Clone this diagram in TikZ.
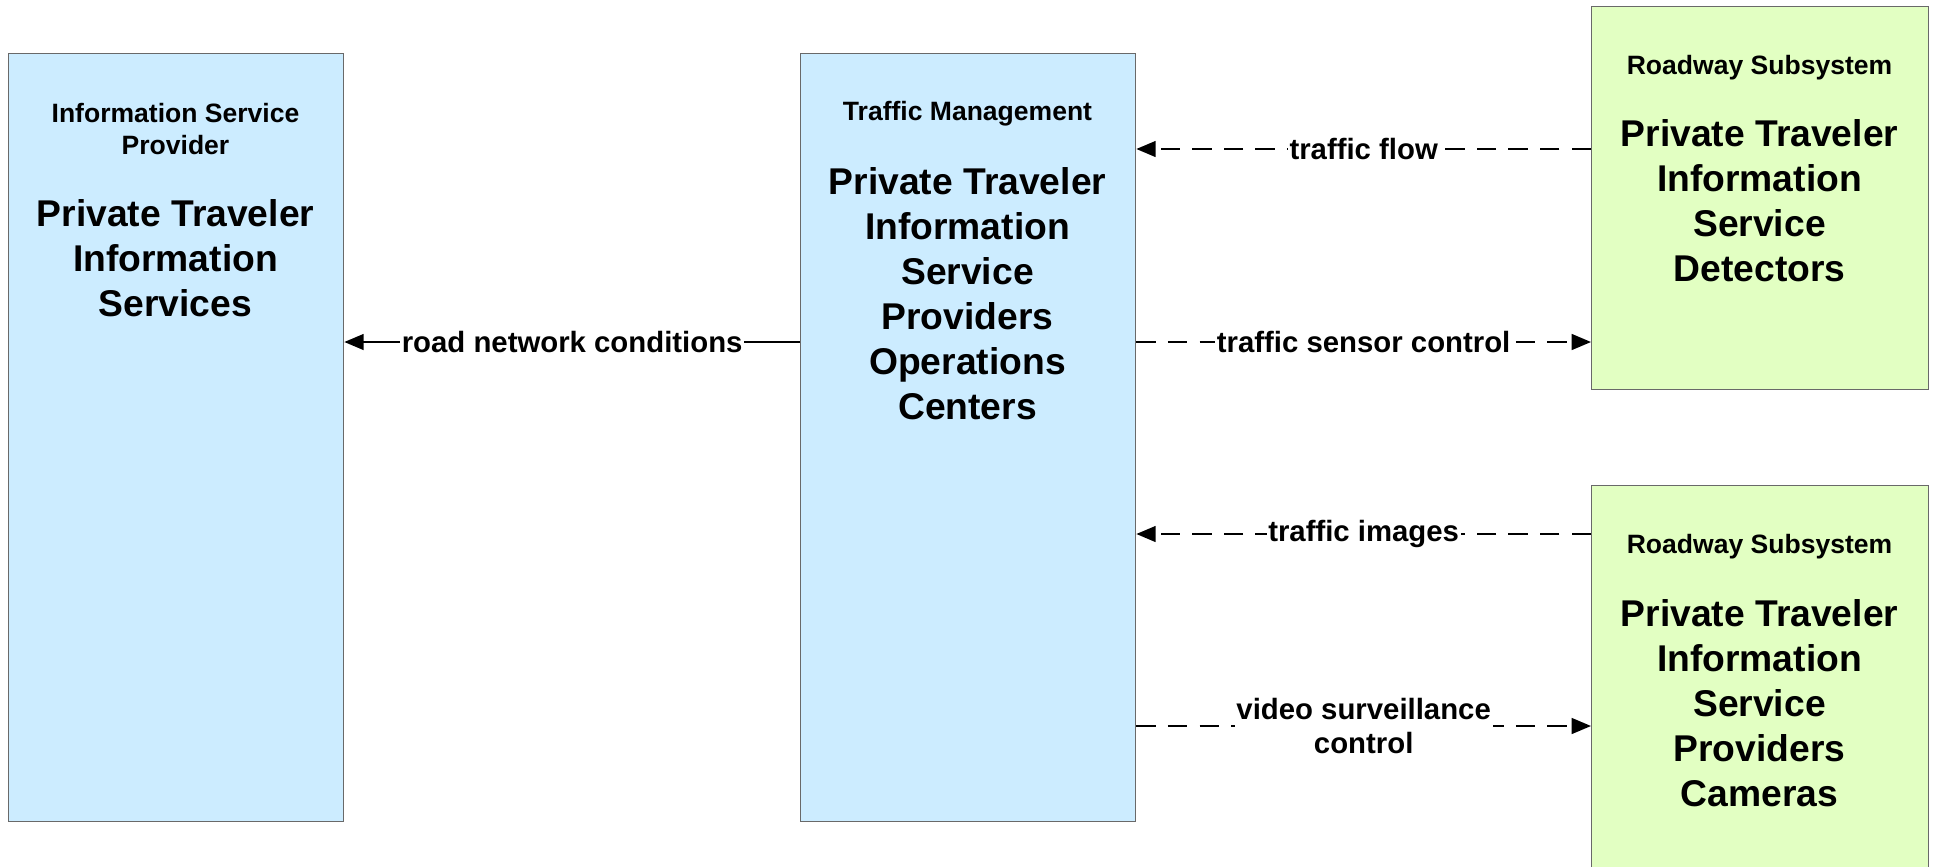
\documentclass[tikz,border=0pt]{standalone}
\usepackage{fontspec}
\setmainfont{Liberation Sans}
\usetikzlibrary{arrows.meta}

\definecolor{sysblue}{RGB}{204,236,255}
\definecolor{sysgreen}{RGB}{226,255,194}
\definecolor{boxline}{RGB}{105,105,105}

\tikzset{
  sysbox/.style={draw=boxline,line width=0.8pt,anchor=north west,inner sep=0pt},
  subsys/.style={align=center,font=\fontsize{15.1}{18.2}\selectfont\bfseries},
  elem/.style={align=center,font=\fontsize{21.2}{25.6}\selectfont\bfseries},
  flowlbl/.style={fill=white,inner sep=1pt,align=center,font=\fontsize{16.7}{19.3}\selectfont\bfseries},
  flow/.style={line width=1.1pt,-{Triangle[length=11pt,width=9pt]}},
  dflow/.style={flow,dash pattern=on 11pt off 7pt},
}

\begin{document}
\begin{tikzpicture}[x=0.02cm,y=-0.02cm]
\useasboundingbox (0,0) rectangle (1937,866);

% boxes
\node[sysbox,fill=sysblue,minimum width=6.7cm,minimum height=15.36cm] (isp) at (8,53) {};
\node[sysbox,fill=sysblue,minimum width=6.7cm,minimum height=15.36cm] (tm) at (800,53) {};
\node[sysbox,fill=sysgreen,minimum width=6.74cm,minimum height=7.66cm] (det) at (1591,6) {};
\node[sysbox,fill=sysgreen,minimum width=6.74cm,minimum height=8.3cm] (cam) at (1591,485) {};

% texts
\node[subsys] (ispsub) at (175.5,129) {Information Service\\Provider};
\node[elem] (ispname) at (175.5,258) {Private Traveler\\Information\\Services};
\node[subsys] (tmsub) at (967.5,114) {Traffic Management};
\node[elem] (tmname) at (967.5,294) {Private Traveler\\Information\\Service\\Providers\\Operations\\Centers};
\node[subsys] (detsub) at (1759.5,68) {Roadway Subsystem};
\node[elem] (detname) at (1759.5,201) {Private Traveler\\Information\\Service\\Detectors};
\node[subsys] (camsub) at (1759.5,547) {Roadway Subsystem};
\node[elem] (camname) at (1759.5,703.5) {Private Traveler\\Information\\Service\\Providers\\Cameras};

% flow levels
\coordinate (lvflow) at (0,149);
\coordinate (lvsens) at (0,342);
\coordinate (lvimg) at (0,534);
\coordinate (lvvid) at (0,726);

% flows
\draw[flow] (tm.west |- lvsens) -- node[flowlbl] {road network conditions} (isp.east |- lvsens);
\draw[dflow] (det.west |- lvflow) -- node[flowlbl] {traffic flow} (tm.east |- lvflow);
\draw[dflow] (tm.east |- lvsens) -- node[flowlbl] {traffic sensor control} (det.west |- lvsens);
\draw[dflow] (cam.west |- lvimg) -- node[flowlbl] {traffic images} (tm.east |- lvimg);
\draw[dflow] (tm.east |- lvvid) -- node[flowlbl] {video surveillance\\control} (cam.west |- lvvid);
\end{tikzpicture}
\end{document}
